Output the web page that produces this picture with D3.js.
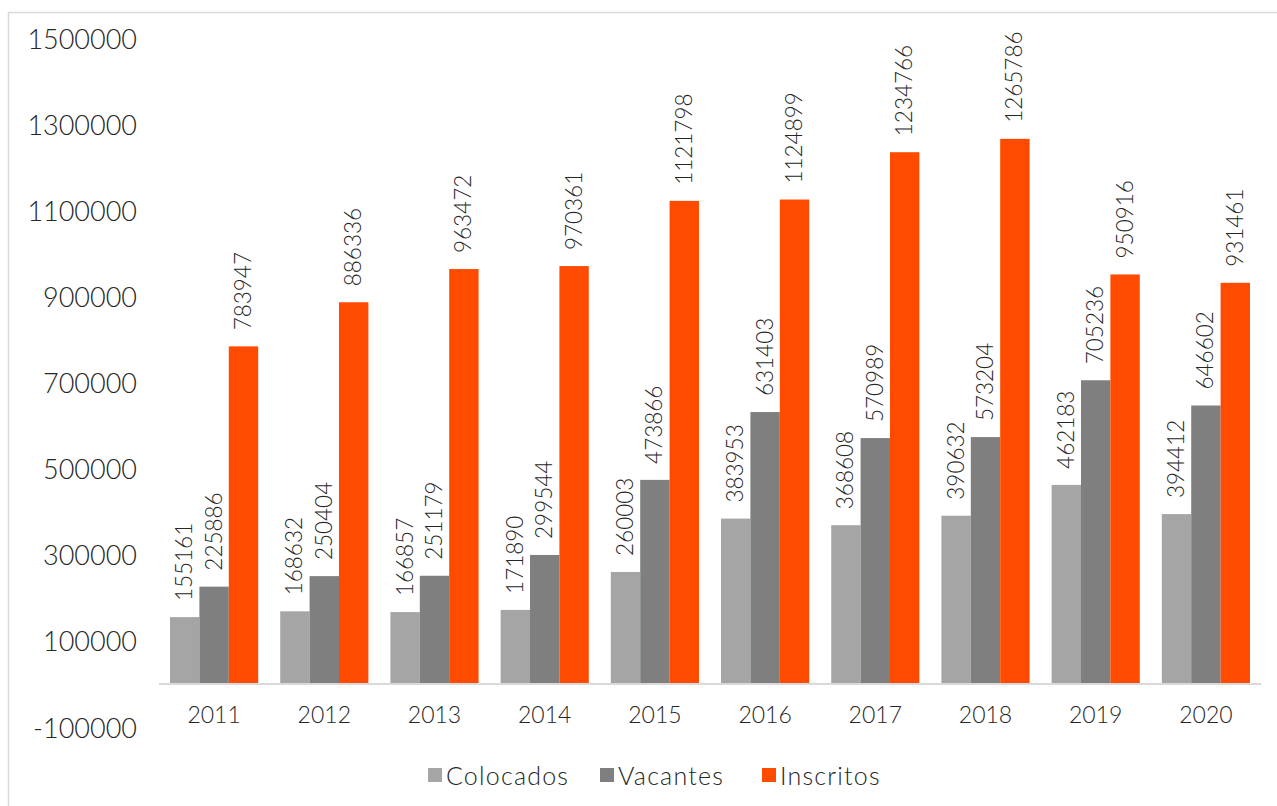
<!DOCTYPE html>
<html>
<head>
<meta charset="utf-8">
<script src="https://cdn.jsdelivr.net/npm/d3@7"></script>
<style>
  html, body { margin: 0; padding: 0; background: #fff; }
  svg { display: block; font-family: Lato, "Open Sans", sans-serif; font-weight: 300; }
</style>
</head>
<body>
<svg id="chart" width="1277" height="806"></svg>
<script>
const years = ["2011","2012","2013","2014","2015","2016","2017","2018","2019","2020"];
const seriesNames = ["Colocados","Vacantes","Inscritos"];
const colocados = [155161,168632,166857,171890,260003,383953,368608,390632,462183,394412];
const vacantes  = [225886,250404,251179,299544,473866,631403,570989,573204,705236,646602];
const inscritos = [783947,886336,963472,970361,1121798,1124899,1234766,1265786,950916,931461];
const yTicks = [-100000,100000,300000,500000,700000,900000,1100000,1300000,1500000];
const colors = ["#A5A5A5","#7F7F7F","#FF4B00"];

const seriesValues = [colocados, vacantes, inscritos];
const svg = d3.select("#chart");
const textColor = "#262626";

// border
svg.append("rect").attr("x", 8.5).attr("y", 12.5).attr("width", 1300).attr("height", 820)
  .attr("fill", "none").attr("stroke", "#D9D9D9").attr("stroke-width", 1.5);

const x0 = d3.scaleBand().domain(years).range([159, 1261]).paddingInner(0.2).paddingOuter(0.1);
const x1 = d3.scaleBand().domain(seriesNames).range([0, x0.bandwidth()]);
const y = d3.scaleLinear().domain([-100000, 1500000]).range([727, 38]);

// y tick labels
svg.append("g").selectAll("text").data(yTicks).join("text")
  .attr("x", 137).attr("y", d => y(d))
  .attr("text-anchor", "end").attr("dominant-baseline", "central")
  .attr("font-size", 27).attr("fill", textColor)
  .text(d => d);

// bars
const groups = svg.append("g").selectAll("g").data(years).join("g")
  .attr("transform", d => `translate(${x0(d)},0)`);

seriesNames.forEach((s, si) => {
  groups.append("rect")
    .attr("x", x1(s))
    .attr("width", x1.bandwidth())
    .attr("y", (d, i) => y(seriesValues[si][i]))
    .attr("height", (d, i) => y(0) - y(seriesValues[si][i]))
    .attr("fill", colors[si]);
  groups.append("text")
    .attr("transform", (d, i) => `translate(${x1(s) + x1.bandwidth() / 2 - 1},${y(seriesValues[si][i]) - 16}) rotate(-90)`)
    .attr("text-anchor", "start").attr("dominant-baseline", "central")
    .attr("font-size", 22.5).attr("fill", textColor)
    .text((d, i) => seriesValues[si][i]);
});

// x axis line
svg.append("line").attr("x1", 159).attr("x2", 1261).attr("y1", y(0)).attr("y2", y(0))
  .attr("stroke", "#D9D9D9").attr("stroke-width", 2);

// year labels
svg.append("g").selectAll("text").data(years).join("text")
  .attr("x", d => x0(d) + x0.bandwidth() / 2).attr("y", 714)
  .attr("text-anchor", "middle").attr("dominant-baseline", "central")
  .attr("font-size", 23).attr("fill", textColor)
  .text(d => d);

// legend
const legendX = [428, 600, 762];
const legend = svg.append("g").selectAll("g").data(seriesNames).join("g")
  .attr("transform", (d, i) => `translate(${legendX[i]},775)`);
legend.append("rect").attr("x", 0).attr("y", -7).attr("width", 14).attr("height", 14)
  .attr("fill", (d, i) => colors[i]);
legend.append("text").attr("x", 18).attr("y", 0).attr("dominant-baseline", "central")
  .attr("font-size", 25).attr("letter-spacing", 1.2).attr("fill", textColor)
  .text(d => d);
</script>
</body>
</html>
